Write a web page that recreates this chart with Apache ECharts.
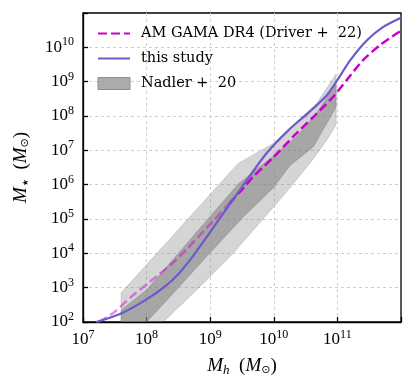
<!DOCTYPE html>
<html>
<head>
<meta charset="utf-8">
<script src="https://cdn.jsdelivr.net/npm/echarts@6/dist/echarts.min.js"></script>
<style>
  html, body { margin: 0; padding: 0; background: #fff; }
  #chart { width: 415px; height: 389px; }
</style>
</head>
<body>
<div id="chart"></div>
<script>
// log10 values
var blueLogMh = [7.21, 7.6, 8.0, 8.3, 8.5, 8.73, 9.0, 9.2, 9.5, 9.88, 10.25, 10.56, 10.83, 11.0, 11.2, 11.45, 11.71, 12.0];
var blueLogMs = [2.0, 2.25, 2.66, 3.05, 3.4, 3.92, 4.62, 5.15, 5.93, 6.9, 7.62, 8.12, 8.6, 9.05, 9.62, 10.18, 10.58, 10.86];

var gamaExtLogMh = [7.25, 7.5, 7.75, 8.05, 8.47, 9.0, 9.3];
var gamaExtLogMs = [2.0, 2.3, 2.72, 3.17, 3.82, 4.85, 5.45];
var gamaLogMh = [9.3, 9.52, 9.67, 10.0, 10.3, 10.62, 10.93, 11.14, 11.4, 11.66, 11.92, 12.0];
var gamaLogMs = [5.45, 5.9, 6.22, 6.81, 7.39, 7.97, 8.55, 9.03, 9.62, 10.05, 10.39, 10.48];

// Nadler+20 bands (outer and inner), edges as log10 values
var outerUpX = [7.60, 7.60, 9.44, 9.99, 10.35, 10.67, 10.98];
var outerUpY = [2.0, 2.85, 6.62, 7.2, 7.82, 8.36, 9.22];
var outerLoX = [8.26, 8.84, 9.36, 10.09, 10.35, 10.56, 10.83, 10.98];
var outerLoY = [2.0, 3.03, 4.0, 5.55, 6.13, 6.61, 7.29, 7.75];

var innerUpX = [7.60, 7.60, 8.0, 9.44, 10.0, 10.35, 10.67, 10.98];
var innerUpY = [2.0, 2.35, 2.93, 6.02, 6.85, 7.39, 8.07, 8.95];
var innerLoX = [8.0, 8.44, 8.99, 9.52, 9.99, 10.25, 10.62, 10.98];
var innerLoY = [2.0, 2.88, 4.0, 5.06, 5.9, 6.55, 7.1, 8.26];

var xTicks = [7, 8, 9, 10, 11];
var yTicks = [2, 3, 4, 5, 6, 7, 8, 9, 10];

var NAME_GAMA = 'AM GAMA DR4 (Driver +  22)';
var NAME_THIS = 'this study';
var NAME_NADLER = 'Nadler +  20';

function pairs(lx, ly) {
    var out = [];
    for (var i = 0; i < lx.length; i++) out.push([Math.pow(10, lx[i]), Math.pow(10, ly[i])]);
    return out;
}

function bandRender(upX, upY, loX, loY, fill, stroke) {
    var pts = pairs(upX, upY).concat(pairs(loX, loY).reverse());
    return function (params, api) {
        var px = pts.map(function (p) { return api.coord(p); });
        return {
            type: 'polygon',
            shape: { points: px },
            style: { fill: fill, stroke: stroke, lineWidth: 1 }
        };
    };
}

function tickLabel(ticks) {
    return function (v) {
        var e = Math.round(Math.log10(v));
        if (ticks.indexOf(e) < 0) return '';
        return '{b|10}{s|' + e + '}';
    };
}

var labelRich = {
    b: { fontSize: 17, fontFamily: 'Liberation Serif', color: '#000' },
    s: { fontSize: 12, fontFamily: 'Liberation Serif', color: '#000', padding: [0, 0, 10, 0] }
};

var splitStyle = { show: true, showMinLine: false, showMaxLine: false, lineStyle: { color: '#cfcfcf', type: [3, 3], width: 1 } };

var nameRich = {
    i: { fontSize: 19, fontStyle: 'italic', fontFamily: 'Liberation Serif', color: '#000' },
    r: { fontSize: 19, fontFamily: 'Liberation Serif', color: '#000' },
    sub: { fontSize: 13, fontStyle: 'italic', fontFamily: 'Liberation Serif', color: '#000', padding: [9, 0, 0, 0] },
    star: { fontSize: 8, fontFamily: 'DejaVu Sans', color: '#000', padding: [9, 0, 0, 1] },
    sun: { fontSize: 11, fontFamily: 'DejaVu Sans', color: '#000', padding: [9, 0, 0, 0] }
};

var noSymbol = { color: 'rgba(0,0,0,0)', borderWidth: 0 };

(function(){
    var myChart = echarts.init(document.getElementById('chart'));
    var option = {
        backgroundColor: '#fff',
        animation: false,
        grid: {
            left: 83,
            top: 13,
            width: 318,
            height: 309,
            show: true,
            borderColor: '#000',
            borderWidth: 1.3
        },
        legend: {
            left: 92,
            top: 21,
            orient: 'vertical',
            itemWidth: 32,
            itemHeight: 12,
            itemGap: 10,
            textStyle: { fontFamily: 'DejaVu Serif', fontSize: 14.5, color: '#000', padding: [0, 0, 0, 6] },
            data: [
                { name: NAME_GAMA, itemStyle: noSymbol },
                { name: NAME_THIS, itemStyle: noSymbol },
                { name: NAME_NADLER, icon: 'rect', itemStyle: { color: '#ababab', borderColor: '#8f8f8f', borderWidth: 1 } }
            ]
        },
        xAxis: {
            type: 'log',
            logBase: 10,
            min: 1e7,
            max: 1e12,
            interval: 1,
            name: '{i|M}{sub|h}{r|  (}{i|M}{sun|⊙}{r|)}',
            nameLocation: 'middle',
            nameGap: 33,
            nameTextStyle: { rich: nameRich },
            axisLine: { show: true, lineStyle: { color: '#000', width: 1.3 } },
            axisTick: { show: true, inside: true, length: 5, lineStyle: { color: '#000', width: 1.3 } },
            minorTick: { show: false },
            axisLabel: { formatter: tickLabel(xTicks), rich: labelRich, margin: 7 },
            splitLine: splitStyle
        },
        yAxis: {
            type: 'log',
            logBase: 10,
            min: 1e2,
            max: 1e11,
            interval: 1,
            name: '{i|M}{star|★}{r|  (}{i|M}{sun|⊙}{r|)}',
            nameLocation: 'middle',
            nameGap: 52,
            nameTextStyle: { rich: nameRich },
            axisLine: { show: true, lineStyle: { color: '#000', width: 1.3 } },
            axisTick: { show: true, inside: true, length: 5, lineStyle: { color: '#000', width: 1.3 } },
            minorTick: { show: false },
            axisLabel: { formatter: tickLabel(yTicks), rich: labelRich, margin: 9 },
            splitLine: splitStyle
        },
        series: [{
            name: NAME_NADLER,
            type: 'custom',
            z: 1,
            clip: true,
            renderItem: bandRender(outerUpX, outerUpY, outerLoX, outerLoY, 'rgba(128,128,128,0.33)', 'rgba(110,110,110,0.25)'),
            data: [[1e9, 1e5]],
            itemStyle: { color: '#ababab' }
        }, {
            name: NAME_NADLER,
            type: 'custom',
            z: 2,
            clip: true,
            renderItem: bandRender(innerUpX, innerUpY, innerLoX, innerLoY, 'rgba(128,128,128,0.56)', 'rgba(100,100,100,0.3)'),
            data: [[1e9, 1e5]],
            itemStyle: { color: '#ababab' }
        }, {
            name: NAME_GAMA + ' ext',
            type: 'line',
            z: 3,
            smooth: 0.25,
            symbol: 'none',
            data: pairs(gamaExtLogMh, gamaExtLogMs),
            lineStyle: { color: '#c800c8', width: 2.5, type: [9, 4], opacity: 0.45 }
        }, {
            name: NAME_GAMA,
            type: 'line',
            z: 4,
            smooth: 0.25,
            symbol: 'none',
            data: pairs(gamaLogMh, gamaLogMs),
            itemStyle: { color: '#c800c8' },
            lineStyle: { color: '#c800c8', width: 2.5, type: [9, 4] }
        }, {
            name: NAME_THIS,
            type: 'line',
            z: 5,
            smooth: 0.25,
            symbol: 'none',
            data: pairs(blueLogMh, blueLogMs),
            itemStyle: { color: '#6a5acd' },
            lineStyle: { color: '#6a5acd', width: 2.2 }
        }]
    };
    myChart.setOption(option);
    window.addEventListener('resize', function() {
        myChart.resize();
    })
})();
</script>
</body>
</html>
